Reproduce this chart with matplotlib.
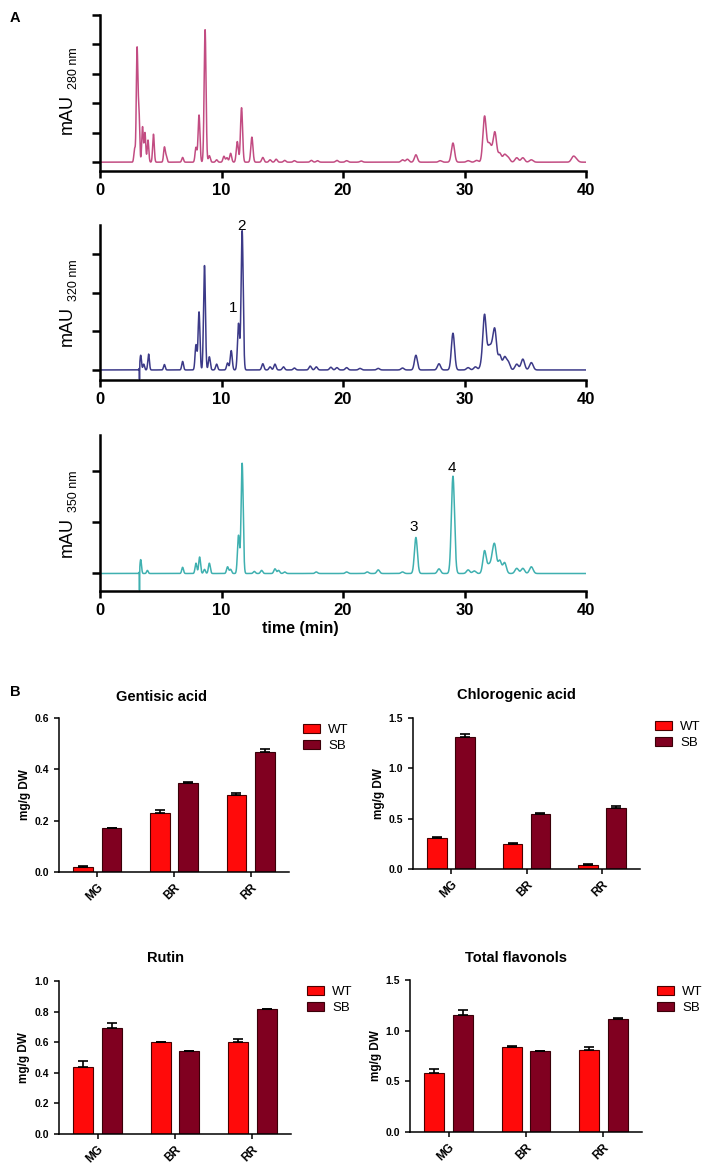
import matplotlib
matplotlib.use('Agg')
from matplotlib import pyplot as plt
import numpy as np

plt.rcParams['font.family'] = ['Liberation Sans', 'DejaVu Sans']

# --- panel A: chromatogram peaks (retention time in min, height in tick units)
rt280 = [2.85, 3.05, 3.2, 3.5, 3.7, 3.95, 4.4, 5.3, 5.45, 6.8, 7.9, 8.15, 8.65, 9.0, 9.6, 10.2,
         10.45, 10.75, 11.3, 11.65, 12.5, 13.4, 14.0, 14.5, 15.2, 16.0, 17.4, 17.9, 19.5, 20.3,
         21.5, 24.9, 25.3, 26.0, 28.0, 29.05, 30.3, 31.0, 31.65, 32.0, 32.2, 32.5, 32.9, 33.3,
         33.6, 34.3, 34.8, 35.5, 38.95, 39.2]
h280 = [0.45, 3.8, 1.75, 1.2, 1.0, 0.75, 0.95, 0.5, 0.2, 0.16, 0.5, 1.6, 4.5, 0.22, 0.08, 0.2,
        0.15, 0.3, 0.7, 1.85, 0.85, 0.16, 0.08, 0.1, 0.06, 0.05, 0.06, 0.05, 0.06, 0.05,
        0.04, 0.08, 0.1, 0.25, 0.05, 0.65, 0.05, 0.06, 1.55, 0.5, 0.3, 1.0, 0.3, 0.25,
        0.15, 0.15, 0.15, 0.08, 0.18, 0.08]

rt320 = [3.25, 3.35, 3.6, 4.0, 5.3, 6.8, 7.9, 8.15, 8.6, 9.0, 9.6, 10.5, 10.8, 11.4, 11.7, 13.4,
         14.0, 14.4, 15.1, 16.0, 17.3, 17.8, 19.0, 19.5, 20.3, 21.4, 22.9, 24.9, 26.0, 27.9,
         29.05, 30.3, 30.9, 31.4, 31.65, 32.0, 32.25, 32.5, 32.9, 33.3, 33.6, 34.3, 34.8, 35.5]
h320 = [-0.35, 0.38, 0.15, 0.41, 0.14, 0.22, 0.65, 1.5, 2.7, 0.34, 0.15, 0.18, 0.5, 1.2, 3.6, 0.16,
        0.08, 0.15, 0.08, 0.05, 0.1, 0.08, 0.07, 0.06, 0.06, 0.04, 0.04, 0.05, 0.38, 0.16,
        0.95, 0.06, 0.08, 0.12, 1.4, 0.5, 0.45, 0.98, 0.38, 0.32, 0.2, 0.15, 0.28, 0.19]

rt350 = [3.25, 3.35, 3.9, 6.8, 7.9, 8.2, 8.6, 9.0, 10.5, 10.75, 11.4, 11.7, 12.7, 13.3, 14.4,
         14.7, 15.2, 17.8, 20.3, 22.0, 22.9, 24.9, 26.0, 27.9, 29.05, 30.3, 30.8, 31.65, 32.0,
         32.3, 32.5, 32.9, 33.3, 34.3, 34.8, 35.5]
h350 = [-0.4, 0.27, 0.06, 0.12, 0.2, 0.32, 0.08, 0.2, 0.13, 0.08, 0.74, 2.14, 0.04, 0.06, 0.09,
        0.06, 0.03, 0.03, 0.03, 0.03, 0.07, 0.03, 0.70, 0.09, 1.89, 0.07, 0.05, 0.44, 0.15,
        0.26, 0.47, 0.25, 0.21, 0.1, 0.1, 0.13]

peak_labels = [('1', 10.92, 1.6), ('2', 11.65, 3.72), ('3', 25.85, 0.9), ('4', 28.94, 2.04)]

# --- panel B: contents (mg/g DW), mean and upper error
cats = ['MG', 'BR', 'RR']
gent_wt = [0.02, 0.23, 0.30];   gent_wt_err = [0.004, 0.01, 0.008]
gent_sb = [0.17, 0.347, 0.467]; gent_sb_err = [0.003, 0.005, 0.012]
chlo_wt = [0.305, 0.25, 0.04];  chlo_wt_err = [0.012, 0.008, 0.006]
chlo_sb = [1.31, 0.545, 0.61];  chlo_sb_err = [0.035, 0.01, 0.012]
rut_wt = [0.44, 0.60, 0.60];    rut_wt_err = [0.04, 0.004, 0.02]
rut_sb = [0.69, 0.54, 0.815];   rut_sb_err = [0.033, 0.004, 0.004]
flav_wt = [0.58, 0.84, 0.81];   flav_wt_err = [0.045, 0.012, 0.03]
flav_sb = [1.15, 0.80, 1.12];   flav_sb_err = [0.055, 0.004, 0.006]

W, H = 709, 1168
fig = plt.figure(figsize=(W / 100, H / 100), dpi=100)


def box(l, t, r, b):
    return [l / W, 1 - b / H, (r - l) / W, (b - t) / H]


t = np.linspace(0, 40, 8001)


def trace(rts, hs):
    y = np.zeros_like(t)
    for rt, h in zip(rts, hs):
        s = 0.012 if h < 0 else 0.055 + 0.0026 * rt
        y += h * np.exp(-0.5 * ((t - rt) / s) ** 2)
    return y


chroms = [
    (rt280, h280, '#c24c82', (100, 15, 586, 171), (-0.3, 5), 6, '280 nm', 114, 68),
    (rt320, h320, '#3c3a88', (100, 225, 586, 380), (-0.26, 3.75), 4, '320 nm', 326, 280),
    (rt350, h350, '#3fb0b0', (100, 435, 586, 591), (-0.34, 2.69), 3, '350 nm', 537, 491),
]
chrom_axes = []
for rts, hs, col, bx, yl, nt, sub, ymau, ysub in chroms:
    ax = fig.add_axes(box(*bx))
    ax.plot(t, trace(rts, hs), color=col, lw=1.1)
    ax.set_xlim(0, 40)
    ax.set_ylim(*yl)
    for s in ['top', 'right']:
        ax.spines[s].set_visible(False)
    for s in ['left', 'bottom']:
        ax.spines[s].set_linewidth(1.8)
    ax.set_xticks([0, 10, 20, 30, 40])
    ax.set_yticks(range(nt))
    ax.set_yticklabels([])
    ax.tick_params(axis='x', length=5, width=1.8, labelsize=12)
    ax.tick_params(axis='y', length=6, width=1.8)
    for lab in ax.get_xticklabels():
        lab.set_fontweight('bold')
    fig.text(67 / W, 1 - ymau / H, 'mAU', rotation=90, ha='center', va='center', fontsize=13)
    fig.text(74 / W, 1 - ysub / H, sub, rotation=90, ha='center', va='center', fontsize=9)
    chrom_axes.append(ax)

for i, (txt, x, y) in enumerate(peak_labels):
    ax = chrom_axes[1] if i < 2 else chrom_axes[2]
    ax.text(x, y, txt, ha='center', va='center', fontsize=11, clip_on=False)

fig.text(300 / W, 1 - 628 / H, 'time (min)', ha='center', va='center', fontsize=11.5, weight='bold')
fig.text(10 / W, 1 - 18 / H, 'A', ha='left', va='center', fontsize=10.5, weight='bold')
fig.text(10 / W, 1 - 692 / H, 'B', ha='left', va='center', fontsize=10.5, weight='bold')

# --- bar charts
bars = [
    ('Gentisic acid', gent_wt, gent_wt_err, gent_sb, gent_sb_err, (59, 718, 289, 872), 0.6,
     [0, 0.2, 0.4, 0.6], (162, 697), (303, 738)),
    ('Chlorogenic acid', chlo_wt, chlo_wt_err, chlo_sb, chlo_sb_err, (413, 718, 640, 869), 1.5,
     [0, 0.5, 1.0, 1.5], (516, 695), (655, 735)),
    ('Rutin', rut_wt, rut_wt_err, rut_sb, rut_sb_err, (59, 981, 291, 1134), 1.0,
     [0, 0.2, 0.4, 0.6, 0.8, 1.0], (165, 958), (307, 1000)),
    ('Total flavonols', flav_wt, flav_wt_err, flav_sb, flav_sb_err, (410, 980, 642, 1132), 1.5,
     [0, 0.5, 1.0, 1.5], (516, 958), (657, 1000)),
]
x = np.arange(len(cats))
for title, wt, wte, sb, sbe, bx, ymax, yt, tpos, lpos in bars:
    ax = fig.add_axes(box(*bx))
    b1 = ax.bar(x - 0.185, wt, 0.26, color='#ff0a0a', edgecolor='#4a0000', lw=0.8, zorder=2)
    b2 = ax.bar(x + 0.185, sb, 0.26, color='#800020', edgecolor='#3a0008', lw=0.8, zorder=2)
    ax.errorbar(x - 0.185, wt, yerr=[np.zeros(3), wte], fmt='none', ecolor='black',
                elinewidth=1.2, capsize=3.5, capthick=1.2, zorder=3)
    ax.errorbar(x + 0.185, sb, yerr=[np.zeros(3), sbe], fmt='none', ecolor='black',
                elinewidth=1.2, capsize=3.5, capthick=1.2, zorder=3)
    ax.set_xlim(-0.5, 2.5)
    ax.set_ylim(0, ymax)
    ax.set_yticks(yt)
    ax.set_yticklabels(['%.1f' % v for v in yt], fontsize=7.5, weight='bold')
    ax.set_xticks(x)
    ax.set_xticklabels(cats, rotation=45, ha='right', rotation_mode='anchor',
                       fontsize=8.5, weight='bold')
    for s in ['top', 'right']:
        ax.spines[s].set_visible(False)
    for s in ['left', 'bottom']:
        ax.spines[s].set_linewidth(1.1)
    ax.tick_params(axis='both', length=3.5, width=1.1)
    ax.set_ylabel('mg/g DW', fontsize=8.5, weight='bold', labelpad=3)
    fig.text(tpos[0] / W, 1 - tpos[1] / H, title, ha='center', va='center',
             fontsize=10.5, weight='bold')
    ax.legend([b1, b2], ['WT', 'SB'], loc='center left', frameon=False,
              bbox_to_anchor=(lpos[0] / W, 1 - lpos[1] / H), bbox_transform=fig.transFigure,
              fontsize=9.5, handlelength=1.3, handleheight=0.68, handletextpad=0.6,
              labelspacing=0.3, borderpad=0, borderaxespad=0)

fig.savefig('out.png', dpi=100)
